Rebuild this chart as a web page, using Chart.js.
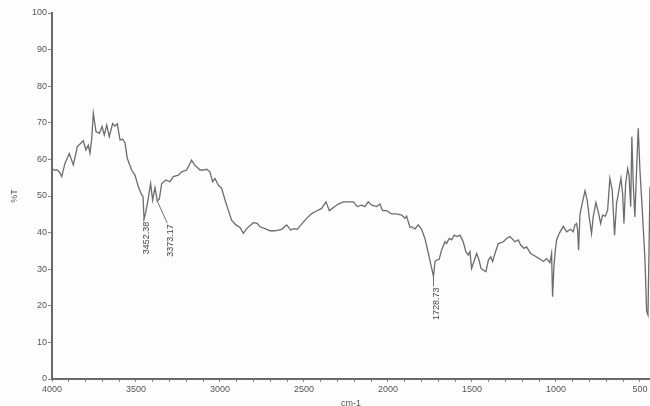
<!DOCTYPE html>
<html>
<head>
<meta charset="utf-8">
<script src="https://cdn.jsdelivr.net/npm/chart.js@4/dist/chart.umd.min.js"></script>
<style>
  html, body { margin: 0; padding: 0; background: #fdfdfd; overflow: hidden; }
  canvas { display: block; }
</style>
</head>
<body>
<canvas id="chart" width="650" height="416"></canvas>
<script>
// wavenumber (cm-1) and transmittance (%T)
const wavenumber = [4000, 3985, 3972, 3955, 3942, 3923, 3897, 3873, 3849, 3829, 3814, 3798, 3784, 3774, 3764, 3754,
    3738, 3718, 3702, 3689, 3674, 3659, 3639, 3625, 3611, 3595, 3579, 3565, 3552, 3526, 3506, 3486, 3466, 3458,
    3452, 3442, 3432, 3413, 3401, 3387, 3373, 3361, 3347, 3321, 3298, 3278, 3248, 3228, 3198, 3169, 3150, 3139,
    3119, 3099, 3079, 3060, 3044, 3030, 3010, 2990, 2970, 2951, 2931, 2905, 2881, 2861, 2841, 2802, 2778, 2762,
    2732, 2702, 2673, 2633, 2603, 2579, 2560, 2540, 2514, 2484, 2454, 2425, 2395, 2369, 2349, 2326, 2296, 2266,
    2236, 2206, 2183, 2157, 2137, 2117, 2097, 2067, 2048, 2032, 2008, 1978, 1948, 1918, 1899, 1889, 1869, 1859,
    1839, 1820, 1800, 1780, 1760, 1746, 1736, 1729, 1720, 1710, 1695, 1681, 1661, 1651, 1635, 1621, 1605, 1588,
    1571, 1552, 1536, 1522, 1512, 1502, 1488, 1472, 1458, 1446, 1433, 1417, 1402, 1388, 1377, 1363, 1343, 1313,
    1294, 1274, 1244, 1224, 1210, 1190, 1175, 1151, 1125, 1099, 1075, 1055, 1036, 1026, 1020, 1012, 1004, 996,
    980, 956, 936, 913, 897, 887, 877, 871, 865, 857, 841, 827, 814, 802, 788, 778, 762, 746, 734, 722, 706, 692,
    679, 665, 651, 639, 625, 613, 603, 595, 585, 573, 565, 555, 548, 540, 530, 520, 510, 500, 486, 470, 460, 452, 440];
const transmittance = [57.5, 57.0, 57.2, 56.5, 55.3, 58.9, 61.6, 58.5, 63.5, 64.4, 65.1, 62.6, 63.9, 61.7, 65.3, 72.6,
    67.6, 67.1, 69.0, 66.7, 69.4, 66.2, 69.8, 69.1, 69.7, 65.3, 65.5, 64.4, 60.3, 57.1, 55.7, 52.5, 50.3, 49.8,
    43.8, 45.5, 48.0, 53.4, 48.9, 52.3, 48.6, 49.2, 53.4, 54.4, 53.9, 55.3, 55.7, 56.6, 57.1, 59.8, 58.4, 58.0,
    57.1, 57.1, 57.3, 56.6, 53.9, 54.8, 53.0, 52.1, 48.9, 46.2, 43.4, 42.1, 41.4, 39.8, 41.1, 42.7, 42.5, 41.6,
    41.1, 40.5, 40.5, 40.9, 42.1, 40.7, 41.1, 40.9, 42.3, 43.9, 45.2, 45.9, 46.6, 48.4, 46.0, 46.8, 47.8, 48.4,
    48.4, 48.4, 47.1, 47.5, 47.1, 48.4, 47.5, 47.1, 47.8, 46.0, 46.0, 45.1, 45.1, 44.8, 43.9, 44.5, 41.4, 41.6,
    41.0, 42.1, 40.9, 38.4, 34.5, 31.5, 29.5, 28.0, 32.1, 32.5, 32.7, 35.2, 37.5, 37.0, 38.4, 38.0, 39.3, 38.9,
    39.3, 37.5, 34.8, 33.9, 34.8, 30.2, 32.1, 34.3, 32.5, 30.2, 29.8, 29.3, 32.5, 33.4, 32.1, 34.3, 37.0, 37.5,
    38.4, 38.9, 37.5, 38.0, 36.6, 35.7, 36.1, 34.3, 33.6, 32.9, 32.1, 32.9, 31.8, 34.3, 22.5, 30.7, 35.0, 38.0,
    39.8, 41.7, 40.2, 40.9, 40.2, 42.1, 42.5, 40.7, 35.2, 45.0, 48.5, 51.4, 48.9, 44.3, 39.8, 44.3, 48.2, 45.3,
    42.5, 44.8, 44.5, 46.2, 54.8, 51.6, 39.3, 48.0, 51.6, 54.8, 50.7, 42.5, 53.4, 57.5, 55.7, 47.1, 66.2, 53.4,
    44.3, 57.1, 68.5, 57.1, 46.2, 32.5, 18.5, 17.5, 52.5];

// marked peaks
const peakLabels = ['3452.38', '3373.17', '1728.73'];
const peakWn = [3452.38, 3373.17, 1728.73];

document.addEventListener("DOMContentLoaded", function () {
    const ctx = document.getElementById("chart").getContext("2d");
    const font = "'Liberation Sans', Arial, sans-serif";

    const points = wavenumber.map((w, i) => ({ x: w, y: transmittance[i] }));

    // nearest data point to a wavenumber
    function valueAt(w) {
        let best = 0;
        wavenumber.forEach((v, i) => {
            if (Math.abs(v - w) < Math.abs(wavenumber[best] - w)) best = i;
        });
        return transmittance[best];
    }

    const peakPlugin = {
        id: 'peakLabels',
        afterDatasetsDraw(chart) {
            const c = chart.ctx;
            const xs = chart.scales.x, ys = chart.scales.y;
            // leader: [dx, drop] in px, per label
            const leader = [[0, 2], [10, 22], [0, 10]];
            c.save();
            c.strokeStyle = '#707070';
            c.lineWidth = 1;
            c.fillStyle = '#444';
            c.font = "9px " + font;
            peakWn.forEach((w, i) => {
                const px = xs.getPixelForValue(w);
                const py = ys.getPixelForValue(valueAt(w));
                const lx = px + leader[i][0];
                const ly = py + leader[i][1];
                c.beginPath();
                c.moveTo(px, py);
                c.lineTo(lx, ly);
                c.stroke();
                c.save();
                c.translate(lx + 3, ly + 1);
                c.rotate(-Math.PI / 2);
                c.textAlign = 'right';
                c.textBaseline = 'middle';
                c.fillText(peakLabels[i], 0, 0);
                c.restore();
            });
            c.restore();
        }
    };

    new Chart(ctx, {
        type: 'line',
        data: {
            datasets: [
                {
                    data: points,
                    borderColor: '#6c6c6c',
                    borderWidth: 1.3,
                    pointRadius: 0,
                    fill: false,
                    tension: 0
                }
            ]
        },
        options: {
            devicePixelRatio: 1,
            responsive: false,
            animation: false,
            layout: { padding: { top: 13, left: 0, right: 0, bottom: 0 } },
            plugins: {
                legend: { display: false },
                tooltip: { enabled: false }
            },
            scales: {
                x: {
                    type: 'linear',
                    reverse: true,
                    min: 440,
                    max: 4000,
                    border: { color: '#6a6a6a', width: 2 },
                    grid: { drawOnChartArea: false, tickLength: 3, color: '#888' },
                    ticks: {
                        stepSize: 100,
                        autoSkip: false,
                        maxRotation: 0,
                        includeBounds: false,
                        padding: 2,
                        color: '#555',
                        font: { family: font, size: 9 },
                        callback: v => v % 500 === 0 ? String(v) : ''
                    },
                    title: {
                        display: true,
                        text: 'cm-1',
                        color: '#555',
                        font: { family: font, size: 9 },
                        padding: { top: 0, bottom: 7 }
                    },
                    afterFit: s => { s.height = 37; s.paddingLeft = 0; s.paddingRight = 0; }
                },
                y: {
                    min: 0,
                    max: 100,
                    border: { color: '#6a6a6a', width: 2 },
                    grid: { drawOnChartArea: false, tickLength: 4, color: '#888' },
                    ticks: {
                        stepSize: 10,
                        padding: 1,
                        color: '#555',
                        font: { family: font, size: 9 }
                    },
                    title: {
                        display: true,
                        text: '%T',
                        color: '#555',
                        font: { family: font, size: 9 },
                        padding: { top: 9, bottom: 0 }
                    },
                    afterFit: s => { s.width = 52; }
                }
            }
        },
        plugins: [peakPlugin]
    });
});
</script>
</body>
</html>
